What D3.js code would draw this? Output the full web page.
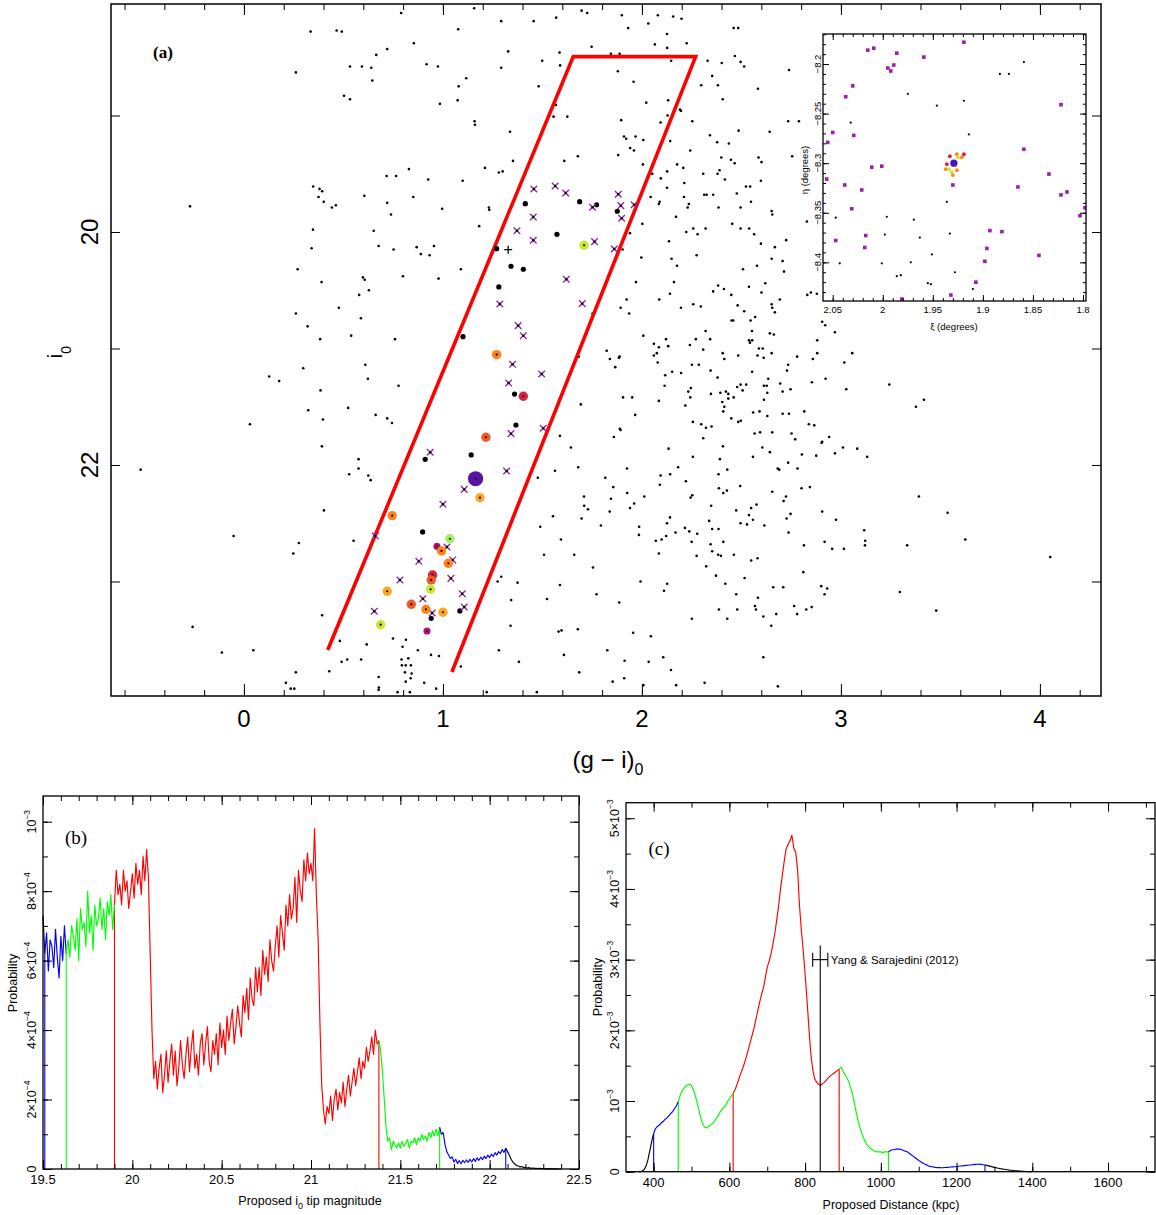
<!DOCTYPE html>
<html>
<head>
<meta charset="utf-8">
<script src="https://cdn.jsdelivr.net/npm/d3@7"></script>
<style>
  body { margin: 0; background: #fff; }
  svg { display: block; }
  text { font-family: "Liberation Sans", Arial, sans-serif; fill: #000; }
  .serif { font-family: "Liberation Serif", "Times New Roman", serif; }
</style>
</head>
<body>
<svg id="fig" width="1156" height="1215"></svg>
<script>
// ---------------- Panel (a): colour-magnitude diagram, [(g-i)0, i0] ----------------
const fieldStars = [
  [0.261,18.63],[-0.271,19.78],[0.270,20.32],[0.261,20.70],[0.127,21.24],[0.177,21.28],[0.030,21.65],[-0.519,22.04],[-0.052,22.61],[0.248,22.76],[0.276,22.67],[-0.258,23.39],[-0.111,23.61],[0.047,23.59],[0.261,23.78],[0.211,23.87],[0.235,23.92],[0.253,23.92],
  [0.335,18.28],[0.466,18.27],[0.492,18.28],[0.790,18.12],[1.157,18.08],[1.293,18.19],[1.456,18.19],[1.569,18.16],[1.697,18.10],[1.725,18.12],[1.899,18.14],[2.080,18.14],[2.032,18.21],[1.931,18.25],[1.077,18.26],[0.854,18.38],[0.720,18.43],[0.665,18.48],[1.328,18.45],[1.586,18.46],[1.747,18.41],[1.844,18.47],[1.888,18.47],[2.065,18.39],[0.533,18.58],[0.593,18.58],[0.640,18.59],[0.918,18.56],[0.975,18.58],[1.293,18.59],[1.499,18.53],[1.589,18.57],[1.879,18.62],[1.958,18.71],[0.645,18.70],[1.117,18.68],[1.079,18.75],[1.481,18.75],[0.503,18.83],[0.533,18.86],[1.074,18.87],[0.985,18.90],[1.568,18.91],[1.556,19.01],[1.625,19.01],[2.022,18.89],[1.159,19.05],[1.161,19.08],[1.337,19.14],[1.896,19.04],[1.910,19.18],[1.921,19.20],[1.968,19.18],[2.007,19.21],[1.941,19.28],[1.960,19.30],[1.881,19.34],[1.678,19.35],[1.610,19.39],[1.352,19.39],[2.005,19.42],[0.829,19.46],[1.211,19.45],[1.281,19.49],[1.300,19.48],[2.052,19.50],
  [2.157,18.15],[2.199,18.17],[2.126,18.30],[2.225,18.38],[2.127,18.42],[2.147,18.53],[2.330,18.53],[2.401,18.55],[2.461,18.25],[2.484,18.25],[2.467,18.49],[2.496,18.54],[2.514,18.58],[2.353,18.66],[2.298,18.74],[2.382,18.74],[2.583,18.77],[2.406,18.86],[2.132,18.87],[2.191,18.95],[2.196,18.96],[2.129,19.00],[2.253,19.05],[2.094,19.06],[2.142,19.22],[2.342,19.17],[2.486,19.13],[2.378,19.23],[2.437,19.24],[2.243,19.30],[2.642,19.14],[2.735,19.05],[2.789,19.05],[2.399,19.36],[2.447,19.38],[2.466,19.41],[2.586,19.36],[2.601,19.40],[2.755,19.35],[2.177,19.42],[2.208,19.45],[2.095,19.54],[2.127,19.48],[2.308,19.50],[2.380,19.50],[2.390,19.47],[2.417,19.55],[2.213,19.58],[2.598,19.56],[2.523,19.61],[2.544,19.61],[2.126,19.62],[2.313,19.68],[2.325,19.68],[2.358,19.68],[2.477,19.67],[2.089,19.74],[2.211,19.70],[2.230,19.79],[2.236,19.76],[2.385,19.79],[2.496,19.79],[2.548,19.74],[2.652,19.82],[2.655,19.85],[2.171,19.87],[2.454,19.93],[2.258,19.97],[2.280,20.02],[2.223,20.00],[2.320,19.97],[2.496,19.97],[2.539,19.97],[2.564,20.02],[2.598,20.10],[2.725,20.07],[2.668,20.13],[2.829,19.91],[2.136,20.08],[2.275,20.20],[2.149,20.23],[2.176,20.29],[2.508,20.32],[2.578,20.29],[2.652,20.23],[2.707,20.25],[2.714,20.34],[2.161,20.43],[2.383,20.46],[2.412,20.49],[2.358,20.51],[2.449,20.54],[2.538,20.47],[2.601,20.52],[2.620,20.44],[2.141,20.53],[2.087,20.58],[2.258,20.62],[2.296,20.64],[2.196,20.65],[2.481,20.63],[2.652,20.62],[2.655,20.65],[2.693,20.58],[2.831,20.54],[2.849,20.52],[2.879,20.53],[2.739,18.61],
  [2.668,20.69],[2.514,20.68],[2.459,20.76],[2.451,20.76],[2.546,20.76],[2.569,20.73],[2.320,20.85],[2.553,20.85],[2.643,20.87],[2.663,20.88],[2.121,20.92],[2.271,20.92],[2.343,20.92],[2.538,20.93],[2.554,20.93],[2.543,20.95],[2.241,20.97],[2.132,20.98],[2.085,20.99],[2.308,21.01],[2.588,21.00],[2.607,21.00],[2.075,21.04],[2.406,21.04],[2.414,21.09],[2.484,21.06],[2.581,21.06],[2.612,21.08],[2.652,21.04],[2.079,21.12],[2.251,21.14],[2.286,21.14],[2.345,21.19],[2.554,21.20],[2.117,21.23],[2.152,21.20],[2.197,21.21],[2.380,21.25],[2.635,21.26],[2.114,21.32],[2.246,21.34],[2.233,21.37],[2.243,21.42],[2.347,21.39],[2.394,21.38],[2.422,21.37],[2.434,21.39],[2.479,21.33],[2.496,21.31],[2.524,21.31],[2.506,21.36],[2.613,21.32],[2.627,21.32],[2.630,21.38],[2.434,21.43],[2.461,21.42],[2.404,21.46],[2.613,21.44],[2.085,21.45],[2.218,21.49],[2.414,21.50],[2.409,21.54],[2.559,21.55],[2.591,21.54],[2.630,21.58],[2.449,21.60],[2.484,21.63],[2.497,21.62],[2.256,21.63],[2.298,21.65],[2.322,21.68],[2.350,21.67],[2.308,21.77],[2.566,21.73],[2.594,21.72],[2.655,21.72],[2.134,21.86],[2.407,21.84],[2.605,21.85],[2.643,21.89],[2.256,21.93],[2.392,21.95],[2.558,21.93],[2.182,22.02],[2.429,22.04],[2.094,22.09],[2.142,22.08],[2.385,22.08],[2.221,22.14],[2.090,22.17],[2.387,22.20],[2.427,22.22],[2.409,22.24],[2.245,22.28],[2.253,22.26],[2.494,22.18],[2.655,22.23],[2.682,22.03],[2.690,22.04],[2.724,22.27],[2.735,21.98],[2.782,22.03],[2.804,21.91],[2.876,21.92],[2.802,22.20],[2.844,22.19],[2.752,21.73],[2.770,21.78],[2.707,21.56],[2.739,21.56],[2.816,21.54],[2.839,21.65],[2.866,21.66],[2.903,21.81],[2.906,21.80],[2.941,21.76],[2.970,21.90],[3.010,21.85],[3.082,21.86],[3.132,21.93],[2.707,21.37],[2.747,21.35],[2.695,21.30],[2.854,21.29],[2.923,21.26],[3.027,21.35],[3.243,21.31],[2.729,21.19],[2.735,21.14],[2.780,21.07],[2.859,21.09],[2.881,21.04],[3.017,21.12],[3.057,21.04],[2.881,20.93],[2.970,20.86],[2.906,20.77],[2.921,20.80],
  [2.348,22.35],[2.474,22.39],[2.549,22.37],[2.576,22.34],[2.712,22.31],[2.538,22.43],[2.558,22.47],[2.528,22.51],[2.496,22.50],[2.615,22.52],[2.747,22.42],[2.727,22.46],[2.906,22.40],[2.975,22.47],[3.117,22.56],[3.122,22.65],[3.121,22.69],[2.737,22.58],[2.918,22.66],[2.956,22.72],[3.015,22.72],[2.814,22.69],[2.141,22.45],[2.126,22.50],[2.338,22.48],[2.216,22.54],[2.238,22.57],[2.278,22.59],[2.169,22.58],[2.353,22.55],[2.385,22.55],[2.122,22.61],[2.099,22.64],[2.070,22.65],[2.250,22.66],[2.409,22.66],[2.345,22.68],[2.085,22.76],[2.275,22.78],[2.353,22.74],[2.383,22.77],[2.397,22.78],[2.462,22.77],[2.549,22.82],[2.581,22.80],[2.323,22.87],[2.372,22.95],[2.516,22.97],[2.811,22.92],[2.127,23.02],[2.111,23.08],[2.419,23.02],[2.474,23.11],[2.583,23.14],[2.660,23.05],[2.710,23.05],[2.901,23.04],[2.931,23.06],[2.918,23.11],[3.296,23.09],[2.387,23.24],[2.479,23.24],[2.568,23.21],[2.573,23.24],[2.610,23.30],[2.675,23.28],[2.765,23.21],[2.853,23.22],[2.826,23.24],[2.780,23.28],[2.251,23.32],[2.429,23.32],[2.650,23.38],[2.107,23.65],[2.610,23.65],[2.146,23.76],[2.315,23.87],[2.172,23.89],[2.683,23.90],
  [3.417,21.44],[3.377,21.50],[3.392,22.27],[3.536,22.41],[3.625,22.64],[3.333,22.69],[4.052,22.79],[3.479,23.25],
  [0.717,19.52],[0.765,19.52],[0.926,19.55],[1.099,19.56],[0.348,19.61],[0.380,19.63],[0.393,19.65],[0.375,19.70],[0.401,19.74],[0.442,19.79],[0.462,19.77],[0.605,19.69],[0.720,19.75],[0.851,19.70],[0.996,19.80],[1.231,19.79],[1.233,19.81],[0.739,19.85],[0.347,19.98],[0.652,19.99],[1.182,19.95],[0.340,20.14],[0.677,20.12],[0.752,20.15],[0.868,20.13],[0.889,20.19],[0.933,20.20],[0.955,20.12],[1.090,20.32],[0.799,20.38],[0.978,20.40],[0.598,20.39],[0.607,20.41],[0.390,20.43],[0.628,20.50],[0.579,20.54],[0.477,20.65],[0.588,20.74],[0.320,20.81],[0.539,20.89],[0.383,20.92],[0.759,20.92],[0.610,21.14],[0.298,21.17],[0.623,21.26],[0.777,21.32],[0.385,21.36],[0.524,21.51],[0.323,21.53],[0.662,21.57],[0.720,21.60],[0.744,21.64],[0.397,21.61],
  [2.044,19.70],[2.085,19.76],[2.002,19.93],[1.940,20.01],[1.903,20.15],[1.997,20.22],[1.970,20.43],[1.923,20.58],[1.893,20.65],[1.936,20.70],[1.752,20.70],[2.007,20.89],[2.060,20.96],[2.060,21.06],[1.823,21.02],[1.839,21.09],[1.866,21.16],[1.884,21.08],[1.888,21.07],[1.682,21.07],[1.905,21.42],[1.951,21.42],[1.693,21.48],[1.966,21.57],[1.889,21.69],
  [0.392,21.84],[0.576,21.95],[0.576,22.03],[0.529,22.08],[0.625,22.09],[0.637,22.13],[0.402,22.39],[0.551,22.65],[0.393,23.29],[0.482,23.51],[0.617,23.54],[0.749,23.49],[0.814,23.50],[0.797,23.56],[0.874,23.59],[0.429,23.77],[0.491,23.69],[0.519,23.67],[0.589,23.67],[0.792,23.67],[0.813,23.72],[0.794,23.72],[0.826,23.66],[0.839,23.72],[0.843,23.79],[0.809,23.78],[0.838,23.83],[0.813,23.86],[0.677,23.82],[0.678,23.91],[0.677,23.93],[0.772,23.95],[0.834,23.95],[0.906,23.87],[0.940,23.63],[0.980,23.64],[0.966,23.92],[1.090,23.73],[1.220,23.95],
  [1.588,21.75],[1.643,21.85],[1.859,21.76],[1.893,21.70],[1.563,22.05],[1.680,22.02],[1.925,22.03],[1.477,22.11],[1.816,22.11],[1.856,22.19],[1.709,22.27],[1.729,22.38],[1.710,22.35],[1.844,22.29],[1.926,22.24],[1.961,22.33],[1.940,22.37],[2.012,22.27],[1.553,22.44],[1.697,22.46],[1.838,22.40],[1.489,22.53],[1.794,22.52],[1.986,22.53],[1.985,22.60],[1.593,22.64],[1.508,22.77],[1.660,22.77],[1.754,22.88],[1.293,22.96],[1.275,23.00],[1.375,23.01],[1.588,23.03],[1.993,23.00],[1.343,23.16],[1.523,23.15],[1.772,23.11],[1.886,23.18],[1.340,23.38],[1.581,23.43],[1.596,23.42],[1.678,23.41],[1.956,23.44],[2.045,23.47],[1.281,23.59],[1.826,23.59],[1.382,23.69],[1.608,23.63],[1.913,23.68],[2.034,23.69],[1.685,23.78],[1.853,23.86],[1.911,23.83],[2.007,23.89],[1.472,23.95]
];

// stars inside the RGB selection box
const boxStars = [
  [1.414,19.757],[1.687,19.740],[1.772,19.766],[1.876,19.822],[1.573,20.020],[1.270,20.143],[1.342,20.294],[1.404,20.320],[1.281,20.472],[1.101,20.899],[1.360,21.391],[1.367,21.657],[1.142,21.914],[0.911,21.951],[0.898,22.575],[1.085,23.253],[0.941,23.316]
];
const boxCrosses = [
  [1.457,19.631],[1.564,19.605],[1.617,19.665],[1.881,19.676],[1.752,19.788],[1.894,19.774],[1.961,19.766],[1.898,19.882],[1.454,19.871],[1.372,19.989],[1.454,20.071],[1.762,20.083],[1.861,20.146],[1.620,20.406],[1.286,20.618],[1.700,20.615],[1.378,20.804],[1.404,20.890],[1.350,21.136],[1.496,21.219],[1.330,21.296],[1.504,21.685],[1.342,21.731],[0.936,21.891],[1.320,22.052],[1.107,22.209],[1.000,22.337],[0.660,22.609],[1.020,22.704],[1.049,22.815],[0.879,22.827],[1.040,22.973],[0.784,22.987],[1.097,23.105],[0.899,23.148],[1.107,23.219],[0.655,23.256],[0.946,23.270]
];
const boxPlus = [[1.328,20.152]];
const rankedStars = [
  [1.709,20.114,"lime"],[1.270,21.053,"orange"],[1.404,21.410,"crimson"],[1.216,21.762,"vermilion"],[1.186,22.281,"amber"],[0.745,22.435,"orange"],[1.035,22.633,"green"],[0.970,22.698,"magenta"],[0.993,22.738,"orange"],[1.027,22.844,"orange"],[0.948,22.944,"crimson"],[0.941,22.987,"vermilion"],[0.938,23.067,"lime"],[0.720,23.084,"amber"],[0.841,23.196,"vermilion"],[0.915,23.239,"orange"],[1.000,23.264,"amber"],[0.687,23.371,"lime"],[0.920,23.425,"magenta"]
];
const centralStar = [[1.164,22.118]];
const selectionBox = [[0.421,23.588],[1.655,18.495],[2.270,18.495],[1.045,23.777]];
const colourTicks = [0,1,2,3,4];
const magTicks = [19,20,21,22,23];
const magLabels = [20,22];

// ---------------- Inset: sky positions (xi, eta) in degrees ----------------
const insetPurple = [
  [2.015,-8.186],[2.009,-8.184],[1.986,-8.189],[1.959,-8.193],[1.919,-8.178],[1.989,-8.201],[1.995,-8.204],[1.992,-8.207],[2.030,-8.222],[2.037,-8.233],[2.050,-8.269],[2.029,-8.272],[2.055,-8.279],[2.011,-8.304],[2.001,-8.303],[2.056,-8.316],[2.038,-8.322],[2.021,-8.327],[2.031,-8.346],[2.047,-8.378],[2.017,-8.373],[2.018,-8.385],[1.981,-8.437],[1.932,-8.433],[1.907,-8.420],[1.898,-8.399],[1.896,-8.386],[1.893,-8.368],[1.881,-8.369],[1.865,-8.324],[1.859,-8.286],[1.834,-8.311],[1.822,-8.241],[1.822,-8.332],[1.816,-8.329],[1.803,-8.353],[1.798,-8.345],[1.844,-8.393],[1.930,-8.322]
];
const insetBlack = [
  [1.859,-8.198],[1.883,-8.210],[1.874,-8.210],[1.975,-8.230],[1.919,-8.237],[1.946,-8.242],[2.032,-8.259],[1.914,-8.271],[1.936,-8.339],[1.996,-8.354],[2.047,-8.355],[1.969,-8.357],[1.998,-8.372],[1.963,-8.375],[1.933,-8.371],[1.951,-8.392],[1.972,-8.400],[2.043,-8.401],[2.001,-8.401],[1.986,-8.414],[1.982,-8.413],[1.955,-8.421],[1.952,-8.422],[1.928,-8.410],[1.910,-8.427]
];
const insetCluster = [
  [1.926,-8.291,"orange"],[1.925,-8.294,"lime"],[1.921,-8.294,"orange"],[1.919,-8.291,"crimson"],[1.933,-8.293,"crimson"],[1.937,-8.306,"orange"],[1.934,-8.306,"lime"],[1.931,-8.309,"lime"],[1.930,-8.312,"orange"],[1.926,-8.307,"orange"],[1.936,-8.301,"crimson"]
];
const insetCentre = [[1.929,-8.300]];
const xiLabels = [2.05,2,1.95,1.9,1.85,1.8];
const etaLabels = [-8.2,-8.25,-8.3,-8.35,-8.4];

// ---------------- Panel (b): tip magnitude posterior (units of 1e-5), step 0.01 from 19.50 ----------------
const tipStart = 19.5, tipStep = 0.01;
const tipProb = [
  73,62,68,57,66,64,58,69,61,55,
  67,60,70,62,66,61,70,67,63,72,
  60,75,69,71,64,80,68,73,63,76,
  70,72,78,69,75,66,77,73,79,69,
  76,86,79,82,76,86,80,83,75,80,
  85,78,88,82,86,79,90,83,92,84,
  62,40,26,31,23,29,33,22,27,34,
  25,31,36,27,34,24,29,37,30,26,
  33,38,28,35,40,29,33,27,36,39,
  30,36,41,31,28,37,33,39,30,42,
  35,40,33,44,37,42,46,36,41,47,
  42,38,50,45,52,43,55,49,47,58,
  51,58,50,63,56,61,54,66,60,57,
  64,70,61,73,68,63,76,70,79,72,
  75,84,71,86,80,77,89,83,91,85,
  88,83,98,79,66,42,24,17,13,18,
  16,21,14,20,23,17,22,19,25,18,
  23,27,21,25,29,24,28,32,26,31,
  29,35,31,34,38,33,40,36,37,34,
  28,20,12,8,9,5.5,8,7,6,7.5,
  6,8,6.5,7.5,8.5,6,8,7.5,9,7,
  9,8,10,8.5,9.5,8,10.5,9,11,9.5,
  11.5,9.5,12,10,10.5,7,5,4,3,3.5,
  2,2.8,1.6,2.4,1.5,2.5,1.8,2.6,1.9,2.8,
  2,3,2.2,3.2,2.5,3.4,2.7,3.7,3,4,
  3.3,4.3,3.6,4.7,4,5,4.4,5.6,4.8,6,
  5,4,2.8,2,1.5,1,0.9,0.6,0.7,0.4,
  0.5,0.3,0.4,0.2,0.3,0.2,0.2,0.1,0.2,0.1,
  0.1,0.1,0.05,0.1,0.05,0.05,0.02,0.05,0.02,0.01,
  0
];
const tipBounds = [19.51,19.63,19.90,21.38,21.72,22.09];
const tipXLabels = [19.5,20,20.5,21,21.5,22,22.5];
const tipYLabels = [[0,"0",""],[2e-4,"2×10","−4"],[4e-4,"4×10","−4"],[6e-4,"6×10","−4"],[8e-4,"8×10","−4"],[1e-3,"10","−3"]];

// ---------------- Panel (c): distance posterior (units of 1e-5), step 5 kpc from 360 ----------------
const distStart = 360, distStep = 5;
const distProb = [
  0,0,1,3,8,17,30,43,54,61,
  64,66,69,71,74,76,79,82,85,89,
  93,99,108,114,118,121,123,124,122,116,
  108,97,86,75,67,63,62,64,66,68,
  71,75,79,84,88,91,94,99,103,107,
  111,116,123,131,139,146,154,163,173,183,
  193,203,215,228,240,251,260,275,289,298,
  308,322,337,356,376,400,420,440,457,463,
  468,476,458,452,428,378,342,313,279,243,
  203,167,145,132,127,124,122,124,126,129,
  132,135,137,139,141,143,145,148,142,138,
  133,128,119,110,97,84,72,62,54,47,
  41,37,34,32,30,29,28,28,28,27,
  28,28,28,30,31,31,32,32,32,31,
  30,29,28,26,24,22,20,18,16,14,
  12.5,11,10,8.5,7.5,7,6.5,6,5.8,5.7,
  5.6,5.7,5.9,6.1,6.3,6.6,6.8,7,7.4,7.7,
  8,8.3,8.6,8.9,9.2,9.5,9.8,10.1,10.4,10.6,
  10.8,10.4,9.9,9.4,8.9,8.2,7.5,6.8,6.1,5.5,
  4.9,4.3,3.9,3.5,3.1,2.7,2.3,2,1.7,1.4,
  1.2,1,0.8,0.6,0.4,0.3,0.2,0.1,0
];
const distBounds = [400,465,610,890,1020,1275];
const distXLabels = [400,600,800,1000,1200,1400,1600];
const distYLabels = [[0,"0",""],[1e-3,"10","−3"],[2e-3,"2×10","−3"],[3e-3,"3×10","−3"],[4e-3,"4×10","−3"],[5e-3,"5×10","−3"]];
const yangDistance = 840, yangRange = [820,860], yangLevel = 3.0e-3, yangTop = 3.2e-3;
const yangLabel = "Yang & Sarajedini (2012)";

// ---------------- styles ----------------
const rankColour = { lime:"#c9e634", green:"#a4ef5e", amber:"#ffa61c", orange:"#ff8418",
                     vermilion:"#f05a26", crimson:"#d8213e", magenta:"#b8117a" };
const segColours = ["#000000","#0000ff","#00ff00","#ff0000","#00ff00","#0000ff","#000000"];
const boundColours = ["#0000ff","#00ff00","#ff0000","#ff0000","#00ff00","#0000ff"];

const svg = d3.select("#fig");

function tickSet(g, axisFn, scale, vals, len, tr) {
  const a = g.append("g").attr("transform", tr)
    .call(axisFn(scale).tickValues(vals).tickSizeInner(-len).tickSizeOuter(0).tickFormat(""));
  a.select(".domain").remove();
  a.selectAll(".tick line").attr("stroke", "#000").attr("stroke-width", 1);
  return a;
}
function frame(g, x0, y0, x1, y1, w) {
  g.append("rect").attr("x", x0).attr("y", y0).attr("width", x1 - x0).attr("height", y1 - y0)
    .attr("fill", "none").attr("stroke", "#000").attr("stroke-width", w);
}
const rng = (a, b, s) => d3.range(Math.round(a / s), Math.round(b / s) + 1).map(i => +(i * s).toFixed(6));

// ================= Panel (a) =================
const ax = d3.scaleLinear().domain([-0.668, 4.307]).range([111, 1101]);
const ay = d3.scaleLinear().domain([18.043, 23.983]).range([4, 696]);
const gA = svg.append("g");
gA.append("clipPath").attr("id", "clipA").append("rect")
  .attr("x", ax.range()[0]).attr("y", ay.range()[0]).attr("width", ax.range()[1] - ax.range()[0]).attr("height", ay.range()[1] - ay.range()[0]);
const pA = gA.append("g").attr("clip-path", "url(#clipA)");

pA.selectAll("circle.field").data(fieldStars).join("circle").attr("class", "field")
  .attr("cx", d => ax(d[0])).attr("cy", d => ay(d[1])).attr("r", 1.3).attr("fill", "#000");

pA.append("path").datum(selectionBox)
  .attr("d", d3.line().x(d => ax(d[0])).y(d => ay(d[1])))
  .attr("fill", "none").attr("stroke", "#ff0000").attr("stroke-width", 3.6).attr("stroke-linejoin", "miter");

pA.selectAll("circle.box").data(boxStars).join("circle").attr("class", "box")
  .attr("cx", d => ax(d[0])).attr("cy", d => ay(d[1])).attr("r", 2.6).attr("fill", "#000");

const crossG = pA.selectAll("g.cross").data(boxCrosses).join("g").attr("class", "cross")
  .attr("transform", d => `translate(${ax(d[0])},${ay(d[1])})`);
crossG.append("path").attr("d", "M-3.3,-3.3L3.3,3.3M-3.3,3.3L3.3,-3.3")
  .attr("stroke", "#8e2c9e").attr("stroke-width", 1.4).attr("fill", "none");
crossG.append("circle").attr("r", 1.2).attr("fill", "#000");

pA.selectAll("path.plus").data(boxPlus).join("path").attr("class", "plus")
  .attr("transform", d => `translate(${ax(d[0])},${ay(d[1])})`)
  .attr("d", "M-4,0L4,0M0,-4L0,4").attr("stroke", "#000").attr("stroke-width", 1.3);

const rankG = pA.selectAll("g.rank").data(rankedStars).join("g").attr("class", "rank")
  .attr("transform", d => `translate(${ax(d[0])},${ay(d[1])})`);
rankG.append("circle").attr("r", d => d[2] === "magenta" ? 3.6 : 4.7).attr("fill", d => rankColour[d[2]]);
rankG.append("circle").attr("r", 1.1).attr("fill", "#000");

const cG = pA.selectAll("g.centre").data(centralStar).join("g").attr("class", "centre")
  .attr("transform", d => `translate(${ax(d[0])},${ay(d[1])})`);
cG.append("circle").attr("r", 7.6).attr("fill", "#5a12a2");
cG.append("circle").attr("r", 1.1).attr("fill", "#1a0030");

// ticks and frame for (a)
tickSet(gA, d3.axisBottom, ax, rng(-0.6, 4.2, 0.2), 6, `translate(0,${ay.range()[1]})`);
tickSet(gA, d3.axisBottom, ax, colourTicks, 12, `translate(0,${ay.range()[1]})`);
tickSet(gA, d3.axisTop, ax, rng(-0.6, 4.2, 0.2), 6, `translate(0,${ay.range()[0]})`);
tickSet(gA, d3.axisTop, ax, colourTicks, 11, `translate(0,${ay.range()[0]})`);
tickSet(gA, d3.axisLeft, ay, magTicks, 9, `translate(${ax.range()[0]},0)`);
tickSet(gA, d3.axisRight, ay, magTicks, 9, `translate(${ax.range()[1]},0)`);
frame(gA, ax.range()[0], ay.range()[0], ax.range()[1], ay.range()[1], 1.5);

gA.selectAll("text.xl").data(colourTicks).join("text").attr("class", "xl")
  .attr("x", d => ax(d)).attr("y", 727).attr("text-anchor", "middle").attr("font-size", 24).text(d => d);
gA.selectAll("text.yl").data(magLabels).join("text").attr("class", "yl")
  .attr("transform", d => `translate(98,${ay(d)}) rotate(-90)`).attr("text-anchor", "middle").attr("font-size", 24).text(d => d);

const xt = gA.append("text").attr("x", 608).attr("y", 768).attr("text-anchor", "middle").attr("font-size", 24);
xt.append("tspan").text("(g − i)");
xt.append("tspan").attr("font-size", 16).attr("dy", 7).text("0");
const yt = gA.append("text").attr("transform", "translate(62,352) rotate(-90)").attr("text-anchor", "middle").attr("font-size", 20);
yt.append("tspan").text("i");
yt.append("tspan").attr("font-size", 14).attr("dy", 9).text("0");
gA.append("text").attr("class", "serif").attr("x", 163).attr("y", 58).attr("text-anchor", "middle")
  .attr("font-size", 17).attr("font-weight", "bold").text("(a)");

// ================= Inset =================
const ix = d3.scaleLinear().domain([2.0597, 1.797]).range([823, 1086]);
const iy = d3.scaleLinear().domain([-8.439, -8.1697]).range([301, 34]);
const gI = svg.append("g");
gI.append("rect").attr("x", 823).attr("y", 34).attr("width", 263).attr("height", 267).attr("fill", "#fff");
gI.append("clipPath").attr("id", "clipI").append("rect").attr("x", 823).attr("y", 34).attr("width", 263).attr("height", 267);
const pI = gI.append("g").attr("clip-path", "url(#clipI)");
pI.selectAll("circle.ib").data(insetBlack).join("circle").attr("class", "ib")
  .attr("cx", d => ix(d[0])).attr("cy", d => iy(d[1])).attr("r", 1.1).attr("fill", "#000");
pI.selectAll("rect.ip").data(insetPurple).join("rect").attr("class", "ip")
  .attr("x", d => ix(d[0]) - 1.8).attr("y", d => iy(d[1]) - 1.8).attr("width", 3.6).attr("height", 3.6).attr("fill", "#9a1fa8");
pI.selectAll("circle.ic").data(insetCentre).join("circle").attr("class", "ic")
  .attr("cx", d => ix(d[0])).attr("cy", d => iy(d[1])).attr("r", 3.6).attr("fill", "#4418c0");
pI.selectAll("circle.icl").data(insetCluster).join("circle").attr("class", "icl")
  .attr("cx", d => ix(d[0])).attr("cy", d => iy(d[1])).attr("r", 1.9).attr("fill", d => rankColour[d[2]]);

tickSet(gI, d3.axisBottom, ix, rng(1.80, 2.05, 0.01), 3, "translate(0,301)");
tickSet(gI, d3.axisBottom, ix, xiLabels, 6, "translate(0,301)");
tickSet(gI, d3.axisTop, ix, rng(1.80, 2.05, 0.01), 3, "translate(0,34)");
tickSet(gI, d3.axisTop, ix, xiLabels, 6, "translate(0,34)");
tickSet(gI, d3.axisLeft, iy, rng(-8.43, -8.17, 0.01), 3, "translate(823,0)");
tickSet(gI, d3.axisLeft, iy, etaLabels, 6, "translate(823,0)");
tickSet(gI, d3.axisRight, iy, rng(-8.43, -8.17, 0.01), 3, "translate(1086,0)");
tickSet(gI, d3.axisRight, iy, etaLabels, 6, "translate(1086,0)");
frame(gI, 823, 34, 1086, 301, 1.3);
gI.selectAll("text.ixl").data(xiLabels).join("text").attr("class", "ixl")
  .attr("x", d => ix(d)).attr("y", 313).attr("text-anchor", "middle").attr("font-size", 9.5).text(d => d);
gI.selectAll("text.iyl").data(etaLabels).join("text").attr("class", "iyl")
  .attr("transform", d => `translate(820.5,${iy(d)}) rotate(-90)`).attr("text-anchor", "middle").attr("font-size", 9.5)
  .text(d => "−" + Math.abs(d));
gI.append("text").attr("x", 954).attr("y", 330).attr("text-anchor", "middle").attr("font-size", 9.5).text("ξ (degrees)");
gI.append("text").attr("transform", "translate(808,170) rotate(-90)").attr("text-anchor", "middle").attr("font-size", 9.5).text("η (degrees)");

// ================= shared helper for the posterior panels =================
function posterior(g, xs, ys, pts, bounds) {
  const xsDom = [pts[0].x, ...bounds, pts[pts.length - 1].x];
  const find = v => pts.find(p => Math.abs(p.x - v) < 1e-6);
  bounds.forEach((b, k) => {
    const p = find(b);
    g.append("line").attr("x1", xs(b)).attr("x2", xs(b)).attr("y1", ys(0)).attr("y2", ys(p.p))
      .attr("stroke", boundColours[k]).attr("stroke-width", 1.1);
  });
  const line = d3.line().x(d => xs(d.x)).y(d => ys(d.p));
  for (let k = 0; k < xsDom.length - 1; k++) {
    const seg = pts.filter(p => p.x >= xsDom[k] - 1e-6 && p.x <= xsDom[k + 1] + 1e-6);
    g.append("path").datum(seg).attr("d", line).attr("fill", "none")
      .attr("stroke", segColours[k]).attr("stroke-width", 1.15).attr("stroke-linejoin", "round");
  }
}
function rotLabels(g, ys, labels, bx) {
  labels.forEach(([v, base, sup]) => {
    const t = g.append("text").attr("transform", `translate(${bx},${ys(v)}) rotate(-90)`)
      .attr("text-anchor", "middle").attr("font-size", 12.5);
    t.append("tspan").text(base);
    if (sup) t.append("tspan").attr("font-size", 8.5).attr("dy", -6).text(sup);
  });
}

// ================= Panel (b) =================
const bxS = d3.scaleLinear().domain([19.5, 22.5]).range([43, 579]);
const byS = d3.scaleLinear().domain([0, 1.074e-3]).range([1169, 796]);
const gB = svg.append("g");
const tipPts = tipProb.map((v, i) => ({ x: +(tipStart + i * tipStep).toFixed(2), p: v * 1e-5 }));
posterior(gB, bxS, byS, tipPts, tipBounds);
tickSet(gB, d3.axisBottom, bxS, rng(19.5, 22.5, 0.1), 5, "translate(0,1169)");
tickSet(gB, d3.axisBottom, bxS, tipXLabels, 9, "translate(0,1169)");
tickSet(gB, d3.axisTop, bxS, rng(19.5, 22.5, 0.1), 5, "translate(0,796)");
tickSet(gB, d3.axisTop, bxS, tipXLabels, 9, "translate(0,796)");
tickSet(gB, d3.axisLeft, byS, rng(0, 1e-3, 1e-4), 5, "translate(43,0)");
tickSet(gB, d3.axisLeft, byS, tipYLabels.map(d => d[0]), 9, "translate(43,0)");
tickSet(gB, d3.axisRight, byS, rng(0, 1e-3, 1e-4), 5, "translate(579,0)");
tickSet(gB, d3.axisRight, byS, tipYLabels.map(d => d[0]), 9, "translate(579,0)");
frame(gB, 43, 796, 579, 1169, 1.3);
gB.selectAll("text.bxl").data(tipXLabels).join("text").attr("class", "bxl")
  .attr("x", d => bxS(d)).attr("y", 1184).attr("text-anchor", "middle").attr("font-size", 13).text(d => d);
rotLabels(gB, byS, tipYLabels, 36);
gB.append("text").attr("transform", "translate(17,983) rotate(-90)").attr("text-anchor", "middle").attr("font-size", 12.5).text("Probability");
const bt = gB.append("text").attr("x", 310).attr("y", 1205).attr("text-anchor", "middle").attr("font-size", 12.5);
bt.append("tspan").text("Proposed i");
bt.append("tspan").attr("font-size", 9).attr("dy", 4).text("0");
bt.append("tspan").attr("dy", -4).text(" tip magnitude");
gB.append("text").attr("class", "serif").attr("x", 76).attr("y", 844).attr("text-anchor", "middle").attr("font-size", 19).text("(b)");

// ================= Panel (c) =================
const cxS = d3.scaleLinear().domain([327, 1724]).range([626, 1155]);
const cyS = d3.scaleLinear().domain([0, 5.22e-3]).range([1171.7, 802.7]);
const gC = svg.append("g");
const distPts = distProb.map((v, i) => ({ x: distStart + i * distStep, p: v * 1e-5 }));
posterior(gC, cxS, cyS, distPts, distBounds);
gC.append("line").attr("x1", cxS(yangDistance)).attr("x2", cxS(yangDistance)).attr("y1", cyS(0)).attr("y2", cyS(yangTop))
  .attr("stroke", "#000").attr("stroke-width", 1.1);
gC.append("line").attr("x1", cxS(yangRange[0])).attr("x2", cxS(yangRange[1])).attr("y1", cyS(yangLevel)).attr("y2", cyS(yangLevel))
  .attr("stroke", "#000").attr("stroke-width", 1.1);
yangRange.forEach(v => gC.append("line").attr("x1", cxS(v)).attr("x2", cxS(v))
  .attr("y1", cyS(yangLevel) - 7).attr("y2", cyS(yangLevel) + 7).attr("stroke", "#000").attr("stroke-width", 1.1));
gC.append("text").attr("x", cxS(yangRange[1]) + 3).attr("y", cyS(yangLevel) + 4).attr("font-size", 11.5).text(yangLabel);

tickSet(gC, d3.axisBottom, cxS, rng(400, 1700, 100), 5, "translate(0,1171.7)");
tickSet(gC, d3.axisBottom, cxS, distXLabels, 9, "translate(0,1171.7)");
tickSet(gC, d3.axisTop, cxS, rng(400, 1700, 100), 5, "translate(0,802.7)");
tickSet(gC, d3.axisTop, cxS, distXLabels, 9, "translate(0,802.7)");
tickSet(gC, d3.axisLeft, cyS, rng(0, 5e-3, 5e-4), 5, "translate(626,0)");
tickSet(gC, d3.axisLeft, cyS, distYLabels.map(d => d[0]), 9, "translate(626,0)");
tickSet(gC, d3.axisRight, cyS, rng(0, 5e-3, 5e-4), 5, "translate(1155,0)");
tickSet(gC, d3.axisRight, cyS, distYLabels.map(d => d[0]), 9, "translate(1155,0)");
frame(gC, 626, 802.7, 1155, 1171.7, 1.3);
gC.selectAll("text.cxl").data(distXLabels).join("text").attr("class", "cxl")
  .attr("x", d => cxS(d)).attr("y", 1187).attr("text-anchor", "middle").attr("font-size", 13).text(d => d);
rotLabels(gC, cyS, distYLabels, 619);
gC.append("text").attr("transform", "translate(602,987) rotate(-90)").attr("text-anchor", "middle").attr("font-size", 12.5).text("Probability");
gC.append("text").attr("x", 891).attr("y", 1209).attr("text-anchor", "middle").attr("font-size", 12.5).text("Proposed Distance (kpc)");
gC.append("text").attr("class", "serif").attr("x", 659).attr("y", 855).attr("text-anchor", "middle").attr("font-size", 19).text("(c)");
</script>
</body>
</html>
